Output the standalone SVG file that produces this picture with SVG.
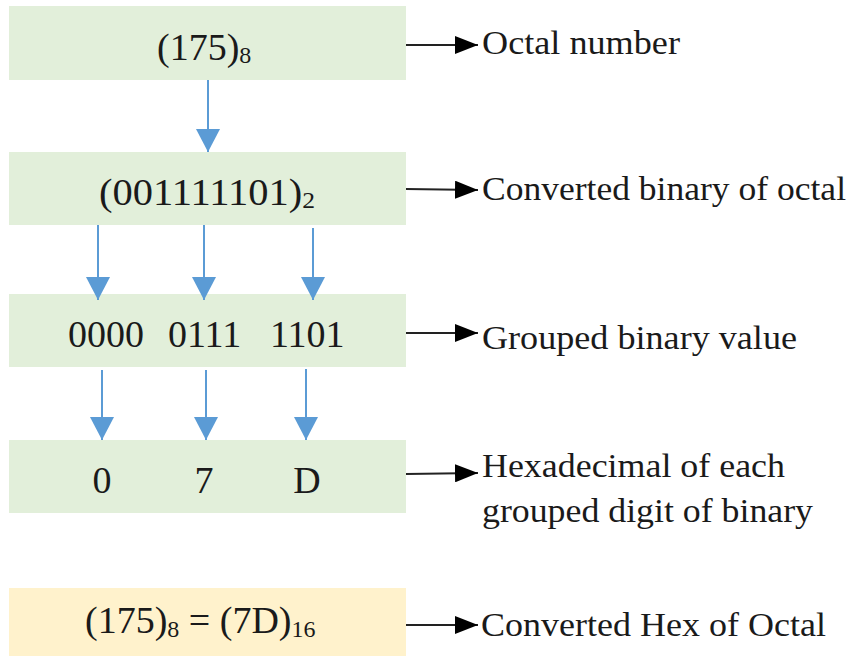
<svg xmlns="http://www.w3.org/2000/svg" width="857" height="657" viewBox="0 0 857 657">
<style>
.g{fill:#e2efda}
.y{fill:#fff2cc}
.t{font-family:"Liberation Serif","Times New Roman",serif;fill:#1a1a1a}
.m{font-size:38px}
.s{font-size:24px}
.l{font-size:33px}
.b{stroke:#5b9bd5;stroke-width:2;fill:none}
.k{stroke:#222;stroke-width:2.2;fill:none}
</style>
<defs>
<marker id="bh" markerUnits="userSpaceOnUse" markerWidth="24" markerHeight="24" refX="23" refY="12" orient="auto"><path d="M0,0 L23,12 L0,24 z" fill="#5b9bd5"/></marker>
<marker id="kh" markerUnits="userSpaceOnUse" markerWidth="24" markerHeight="18" refX="23" refY="9" orient="auto"><path d="M0,0 L23,9 L0,18 z" fill="#000"/></marker>
</defs>
<rect width="857" height="657" fill="#fff"/>
<g id="octal">
<rect class="g" x="9" y="6" width="397" height="74"/>
<text class="t m" x="157" y="60">(175)<tspan class="s" dy="3">8</tspan></text>
</g>
<g id="binary">
<rect class="g" x="9" y="152" width="397" height="73"/>
<text class="t m" x="99" y="205" textLength="216" lengthAdjust="spacingAndGlyphs">(001111101)<tspan class="s" dy="3">2</tspan></text>
</g>
<g id="grouped">
<rect class="g" x="9" y="294" width="397" height="73"/>
<text class="t m" x="68" y="347">0000</text>
<text class="t m" x="168" y="347">0111</text>
<text class="t m" x="270" y="347">1101</text>
</g>
<g id="hex">
<rect class="g" x="9" y="440" width="397" height="73"/>
<text class="t m" x="102" y="493" text-anchor="middle">0</text>
<text class="t m" x="204" y="493" text-anchor="middle">7</text>
<text class="t m" x="307" y="493" text-anchor="middle">D</text>
</g>
<g id="result">
<rect class="y" x="9" y="588" width="397" height="68"/>
<text class="t m" x="85" y="633">(175)<tspan class="s" dy="4">8</tspan><tspan dy="-4"> = (7D)</tspan><tspan class="s" dy="4">16</tspan></text>
</g>
<g id="labels">
<text class="t l" x="482" y="54" textLength="198" lengthAdjust="spacingAndGlyphs">Octal number</text>
<text class="t l" x="482" y="200" textLength="364" lengthAdjust="spacingAndGlyphs">Converted binary of octal</text>
<text class="t l" x="482" y="349" textLength="315" lengthAdjust="spacingAndGlyphs">Grouped binary value</text>
<text class="t l" x="482" y="477" textLength="303" lengthAdjust="spacingAndGlyphs">Hexadecimal of each</text>
<text class="t l" x="482" y="522" textLength="331" lengthAdjust="spacingAndGlyphs">grouped digit of binary</text>
<text class="t l" x="481" y="636" textLength="345" lengthAdjust="spacingAndGlyphs">Converted Hex of Octal</text>
</g>
<g id="connectors">
<line class="b" x1="208" y1="80" x2="208" y2="152" marker-end="url(#bh)"/>
<line class="b" x1="98" y1="225" x2="98" y2="300" marker-end="url(#bh)"/>
<line class="b" x1="204" y1="225" x2="204" y2="300" marker-end="url(#bh)"/>
<line class="b" x1="313" y1="228" x2="313" y2="300" marker-end="url(#bh)"/>
<line class="b" x1="102" y1="370" x2="102" y2="440" marker-end="url(#bh)"/>
<line class="b" x1="206" y1="370" x2="206" y2="440" marker-end="url(#bh)"/>
<line class="b" x1="306" y1="369" x2="306" y2="440" marker-end="url(#bh)"/>
<line class="k" x1="406" y1="45" x2="478" y2="45" marker-end="url(#kh)"/>
<line class="k" x1="406" y1="189" x2="478" y2="190" marker-end="url(#kh)"/>
<line class="k" x1="406" y1="333" x2="478" y2="333" marker-end="url(#kh)"/>
<line class="k" x1="406" y1="474" x2="478" y2="473" marker-end="url(#kh)"/>
<line class="k" x1="406" y1="625" x2="478" y2="625" marker-end="url(#kh)"/>
</g>
</svg>
